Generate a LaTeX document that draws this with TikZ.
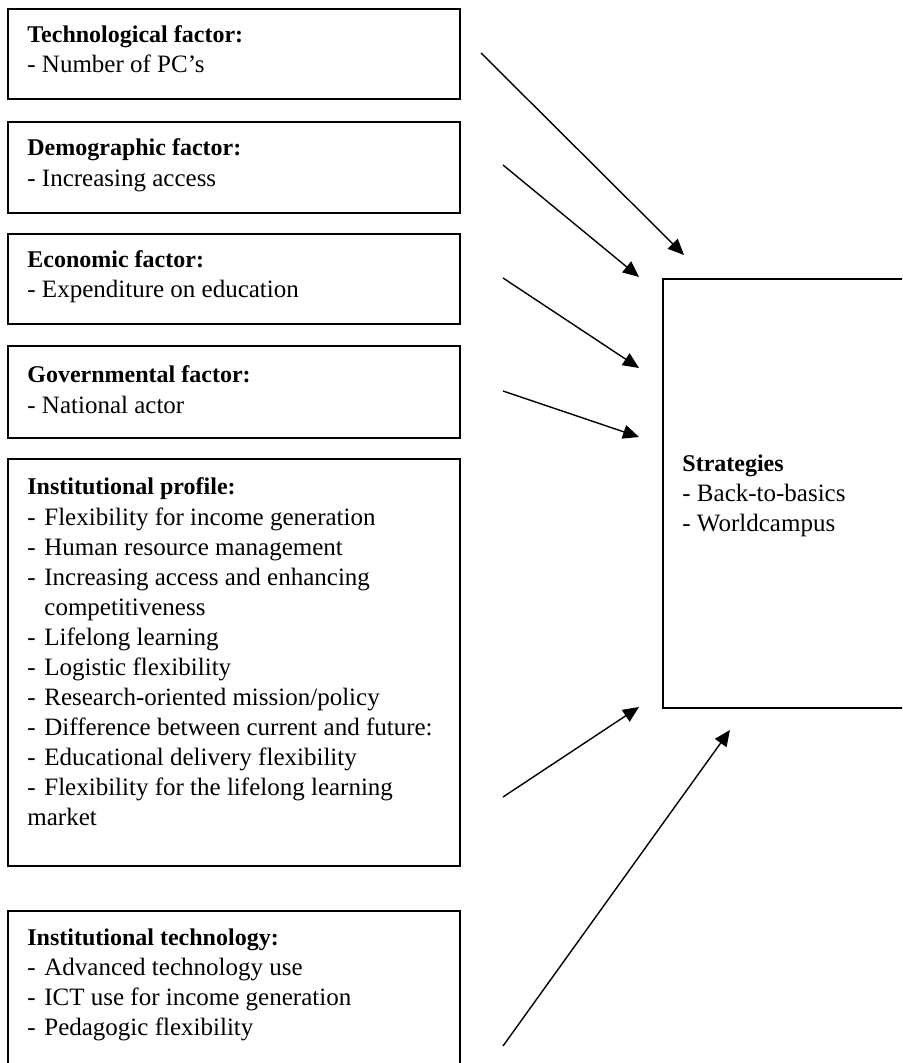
\documentclass[tikz,border=0pt]{standalone}
\usepackage{fontspec}
\setmainfont{Liberation Serif}
\usetikzlibrary{arrows.meta}

\tikzset{
  box/.style={draw, line width=0.9pt, rectangle, inner sep=0pt, anchor=north west},
  txt/.style={anchor=base west, inner sep=0pt, font=\fontsize{12.5}{15}\selectfont},
  head/.style={txt, font=\fontsize{12}{15}\selectfont\bfseries},
  flow/.style={line width=0.7pt, -{Triangle[length=8pt,width=7pt]}}
}
\newcommand{\itm}{\makebox[8.5pt][l]{-}}

\begin{document}
\begin{tikzpicture}[x=0.5pt, y=-0.5pt]
\useasboundingbox (0,0) rectangle (902,1063);
\clip (0,0) rectangle (902,1063);

% factor boxes on the left
\node[box, minimum width=226pt, minimum height=45pt]   (tech)  at (7,8)   {};
\node[box, minimum width=226pt, minimum height=45.5pt] (demo)  at (7,121) {};
\node[box, minimum width=226pt, minimum height=45pt]   (econ)  at (7,233) {};
\node[box, minimum width=226pt, minimum height=46pt]   (gov)   at (7,345) {};
\node[box, minimum width=226pt, minimum height=203.5pt] (prof) at (7,458) {};
\node[box, minimum width=226pt, minimum height=85pt]   (itech) at (7,910) {};

% strategy box on the right
\node[box, minimum width=130pt, minimum height=214.5pt] (strat) at (662,278) {};

% box texts
\node[head] (t1) at (27,43)  {Technological factor:};
\node[txt]  (t1a) at (27,73) {- Number of PC’s};

\node[head] (t2) at (27,156) {Demographic factor:};
\node[txt]  (t2a) at (27,187) {- Increasing access};

\node[head] (t3) at (27,268) {Economic factor:};
\node[txt]  (t3a) at (27,298) {- Expenditure on education};

\node[head] (t4) at (27,382) {Governmental factor:};
\node[txt]  (t4a) at (27,413) {- National actor};

\node[head] (t5) at (27,494) {Institutional profile:};
\foreach \line [count=\k from 1] in {
  \itm Flexibility for income generation,
  \itm Human resource management,
  \itm Increasing access and enhancing,
  \hspace*{8.5pt}competitiveness,
  \itm Lifelong learning,
  \itm Logistic flexibility,
  \itm Research-oriented mission/policy,
  \itm Difference between current and future:,
  \itm Educational delivery flexibility,
  \itm Flexibility for the lifelong learning,
  market}
  \node[txt] (t5l\k) at (27,495+30*\k) {\line};

\node[head] (t6) at (27,945) {Institutional technology:};
\foreach \line [count=\k from 1] in {
  \itm Advanced technology use,
  \itm ICT use for income generation,
  \itm Pedagogic flexibility}
  \node[txt] (t6l\k) at (27,945+30*\k) {\line};

\node[head] (s0) at (682,471) {Strategies};
\node[txt]  (s1) at (682,501) {- Back-to-basics};
\node[txt]  (s2) at (682,531) {- Worldcampus};

% arrow end points
\coordinate (a1s) at (481,53);   \coordinate (a1e) at (684,255);
\coordinate (a2s) at (503,165);  \coordinate (a2e) at (639,277);
\coordinate (a3s) at (503,278);  \coordinate (a3e) at (639,368);
\coordinate (a4s) at (503,391);  \coordinate (a4e) at (639,437);
\coordinate (a5s) at (503,797);  \coordinate (a5e) at (639,707);
\coordinate (a6s) at (503,1046); \coordinate (a6e) at (730,730);

\draw[flow] (a1s) -- (a1e);
\draw[flow] (a2s) -- (a2e);
\draw[flow] (a3s) -- (a3e);
\draw[flow] (a4s) -- (a4e);
\draw[flow] (a5s) -- (a5e);
\draw[flow] (a6s) -- (a6e);
\end{tikzpicture}
\end{document}
